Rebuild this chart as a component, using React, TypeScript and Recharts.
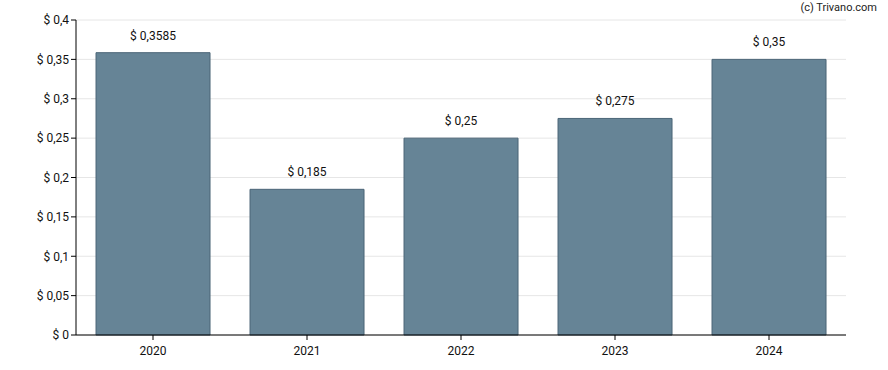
import React from 'react';
import { BarChart, Bar, XAxis, YAxis, CartesianGrid, LabelList } from 'recharts';

const years = ['2020', '2021', '2022', '2023', '2024'];
const dividends = [0.3585, 0.185, 0.25, 0.275, 0.35];
const yTicks = [0, 0.05, 0.1, 0.15, 0.2, 0.25, 0.3, 0.35, 0.4];

const data = years.map((y, i) => ({ year: y, value: dividends[i] }));

const fmt = (v: number) => '$ ' + String(v).replace('.', ',');

export default function App() {
  return (
    <div style={{ position: 'absolute', left: 0, top: 0, width: 888, height: 370, background: '#fff' }}>
      <BarChart
        width={888}
        height={370}
        data={data}
        margin={{ top: 20, right: 42, bottom: 0, left: 6 }}
        barCategoryGap="13%"
      >
        <CartesianGrid vertical={false} stroke="#e6e6e6" />
        <XAxis
          dataKey="year"
          height={35}
          tickSize={5}
          tickMargin={6}
          axisLine={{ stroke: '#000', strokeWidth: 1 }}
          tickLine={{ stroke: '#000' }}
          tick={{ fill: '#111', fontSize: 12, fontFamily: 'Roboto' }}
        />
        <YAxis
          width={70}
          domain={[0, 0.4]}
          ticks={yTicks}
          tickSize={5}
          tickFormatter={fmt}
          axisLine={{ stroke: '#000', strokeWidth: 1 }}
          tickLine={{ stroke: '#000' }}
          tick={{ fill: '#111', fontSize: 12, fontFamily: 'Roboto' }}
          interval={0}
        />
        <Bar dataKey="value" fill="#668496" stroke="#4b6577" strokeWidth={1} isAnimationActive={false}>
          <LabelList
            dataKey="value"
            position="top"
            offset={13}
            formatter={(v: any) => fmt(v as number)}
            style={{ fill: '#111', fontSize: 12, fontFamily: 'Roboto' }}
          />
        </Bar>
      </BarChart>
      <div
        style={{
          position: 'absolute',
          right: 11,
          top: 1,
          fontFamily: 'Roboto',
          fontSize: 11,
          color: '#222',
        }}
      >
        (c) Trivano.com
      </div>
    </div>
  );
}
